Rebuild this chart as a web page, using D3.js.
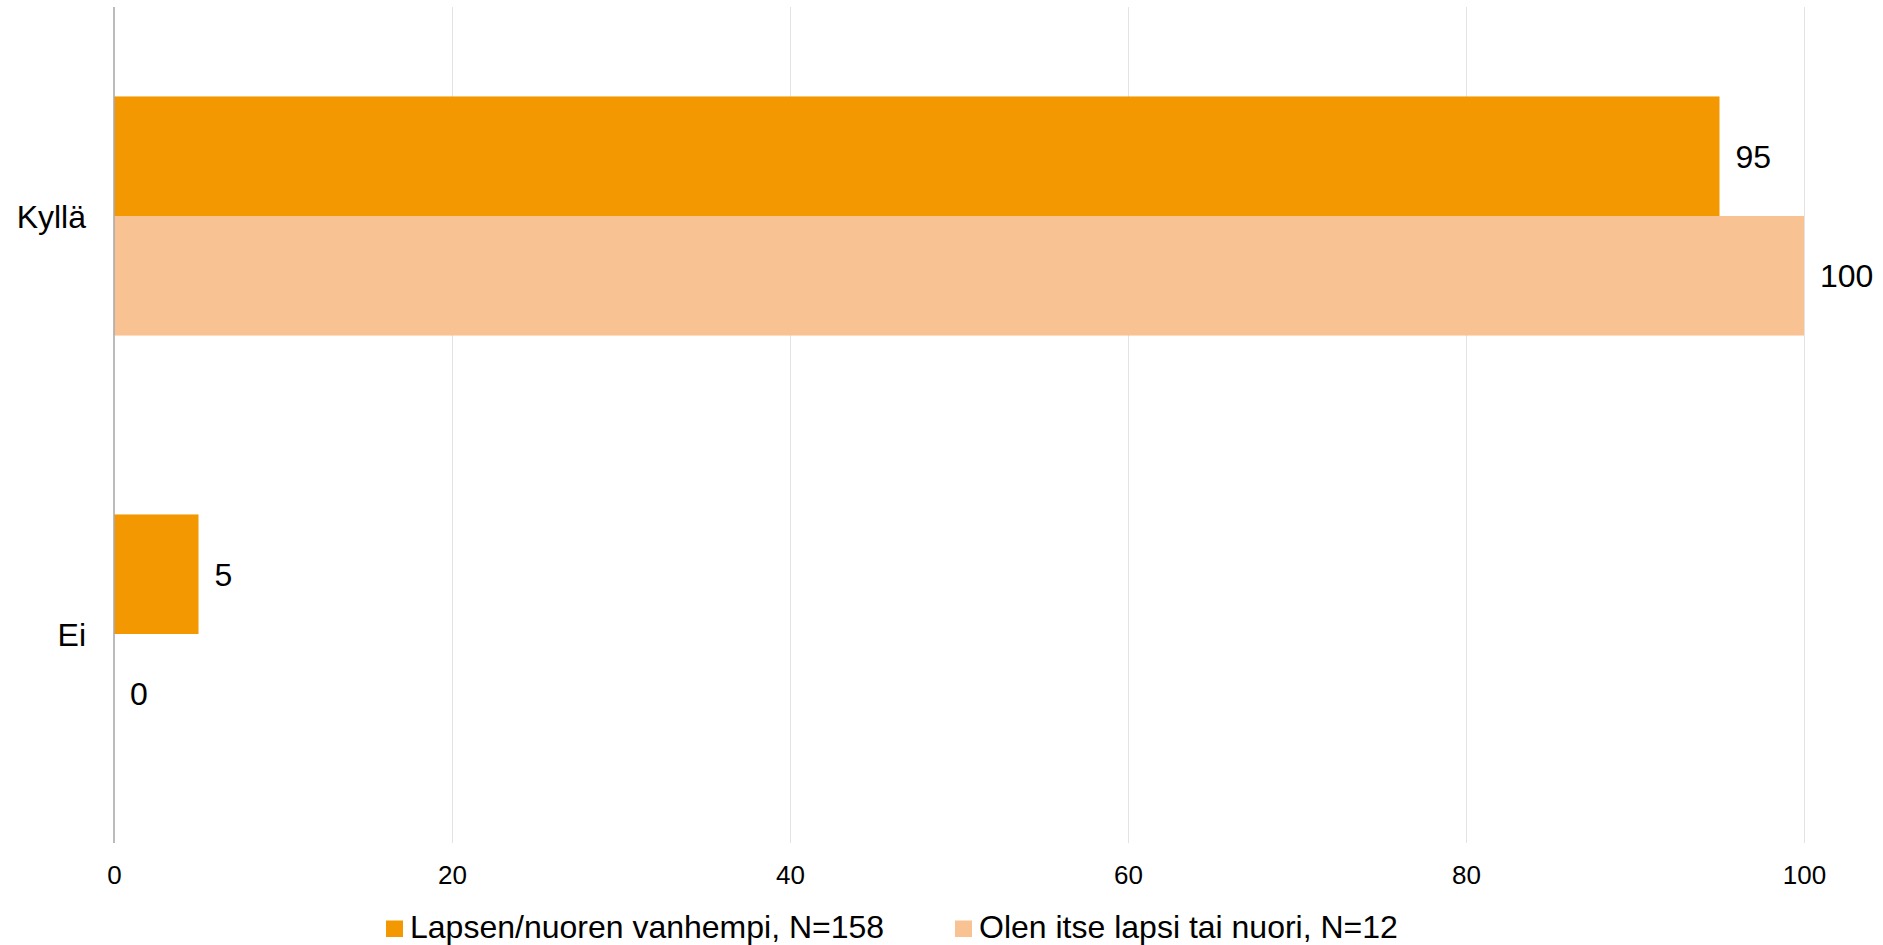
<!DOCTYPE html>
<html>
<head>
<meta charset="utf-8">
<script src="https://cdn.jsdelivr.net/npm/d3@7"></script>
<style>
  html, body { margin: 0; padding: 0; background: #ffffff; }
  svg { display: block; font-family: "Liberation Sans", Arial, sans-serif; }
</style>
</head>
<body>
<svg id="chart" width="1883" height="945"></svg>
<script>
const categories = ["Kyllä", "Ei"];
const seriesNames = ["Lapsen/nuoren vanhempi, N=158", "Olen itse lapsi tai nuori, N=12"];
const seriesParent = [95, 5];
const seriesChild = [100, 0];
const xTicks = [0, 20, 40, 60, 80, 100];
const colors = ["#f39800", "#f9c293"];

const seriesValues = [seriesParent, seriesChild];

const svg = d3.select("#chart");
const plotLeft = 114, plotRight = 1804, plotTop = 7, plotBottom = 843;
const bigFont = 32;

const x = d3.scaleLinear().domain([0, 100]).range([plotLeft, plotRight]);
const y = d3.scaleBand().domain(categories).range([plotTop, plotBottom])
  .paddingInner(0.428).paddingOuter(0.214);
const ySub = d3.scaleBand().domain(d3.range(seriesNames.length)).range([0, y.bandwidth()]);

// gridlines + tick labels
svg.append("g")
  .attr("transform", `translate(0,${plotBottom})`)
  .call(d3.axisBottom(x).tickValues(xTicks).tickSize(-(plotBottom - plotTop)).tickFormat(d => d))
  .call(g => g.select(".domain").remove())
  .call(g => g.selectAll(".tick line")
    .attr("stroke", "#e3e3e3").attr("stroke-width", 1)
    .attr("display", d => d === 0 ? "none" : null))
  .call(g => g.selectAll(".tick text")
    .attr("fill", "#000").attr("font-size", 26)
    .attr("font-family", "Liberation Sans, Arial, sans-serif")
    .attr("y", 23).attr("dy", "0.71em"));

// bars
categories.forEach((c, ci) => {
  seriesValues.forEach((vals, si) => {
    const v = vals[ci];
    const y0 = y(c) + ySub(si);
    svg.append("rect")
      .attr("x", x(0))
      .attr("y", y0)
      .attr("width", x(v) - x(0))
      .attr("height", ySub.bandwidth())
      .attr("fill", colors[si]);
    svg.append("text")
      .attr("x", x(v) + 16)
      .attr("y", y0 + ySub.bandwidth() / 2)
      .attr("dy", "0.36em")
      .attr("font-size", bigFont)
      .attr("fill", "#000")
      .text(v);
  });
});

// y axis line and labels
svg.append("line")
  .attr("x1", x(0)).attr("x2", x(0))
  .attr("y1", plotTop).attr("y2", plotBottom)
  .attr("stroke", "#ababab").attr("stroke-width", 1.6);

svg.append("g").selectAll("text")
  .data(categories).join("text")
  .attr("x", x(0) - 28)
  .attr("y", d => y(d) + y.bandwidth() / 2)
  .attr("dy", "0.36em")
  .attr("text-anchor", "end")
  .attr("font-size", bigFont)
  .attr("fill", "#000")
  .text(d => d);

// legend
const legendX = [386, 955];
const legend = svg.append("g");
seriesNames.forEach((name, i) => {
  legend.append("rect")
    .attr("x", legendX[i]).attr("y", 920.5)
    .attr("width", 17).attr("height", 16.5)
    .attr("fill", colors[i]);
  legend.append("text")
    .attr("x", legendX[i] + 24)
    .attr("y", 926.5)
    .attr("dy", "0.35em")
    .attr("font-size", bigFont)
    .attr("fill", "#000")
    .text(name);
});
</script>
</body>
</html>
